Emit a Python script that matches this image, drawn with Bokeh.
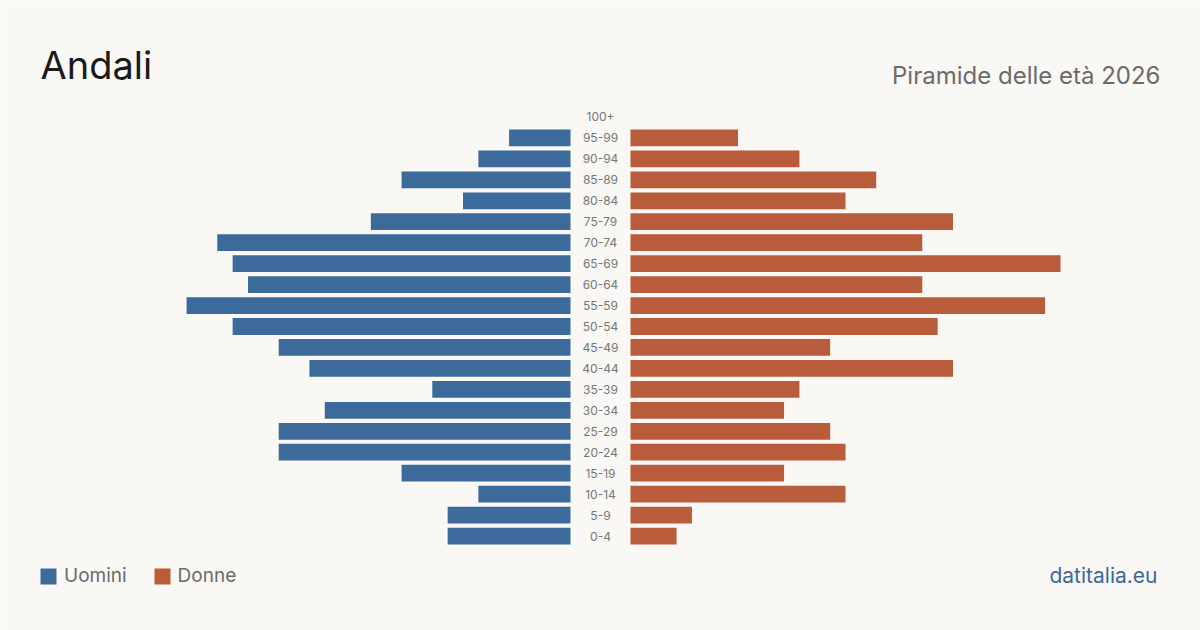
from bokeh.plotting import figure
from bokeh.models import Range1d, Label, Legend, LegendItem, ColumnDataSource
from bokeh.core.properties import value
from bokeh.embed import file_html
from bokeh.resources import INLINE

# Age classes, youngest first
age_groups = ["0-4", "5-9", "10-14", "15-19", "20-24", "25-29", "30-34", "35-39",
              "40-44", "45-49", "50-54", "55-59", "60-64", "65-69", "70-74",
              "75-79", "80-84", "85-89", "90-94", "95-99", "100+"]
uomini = [8, 8, 6, 11, 19, 19, 16, 9, 17, 19, 22, 25, 21, 22, 23, 13, 7, 11, 6, 4, 0]
donne = [3, 4, 14, 10, 14, 13, 10, 11, 21, 13, 20, 27, 19, 28, 19, 21, 14, 16, 11, 7, 0]

title_text = "Andali"
subtitle_text = "Piramide delle età 2026"
source_text = "datitalia.eu"

BG = "#f9f8f4"
BLUE = "#3b6a9b"
ORANGE = "#b95c3c"
FONT = "Inter"

W, H = 1200, 630
# pyramid area in page pixels
PLOT_L, PLOT_R, PLOT_T, PLOT_B = 140, 1060, 106, 546
gap_px = 30  # room for the age labels on each side of the centre line

xmax = max(max(uomini), max(donne))
scale = ((PLOT_R - PLOT_L) - 2 * gap_px) / (2 * xmax)  # px per person
gap = gap_px / scale
n = len(age_groups)
row_px = (PLOT_B - PLOT_T) / n


def sx(px):
    return (px - W / 2) / scale


def sy(py):
    return (n - 0.5) - (py - PLOT_T) / row_px


idx = list(range(n))
src = ColumnDataSource(dict(
    y=idx,
    age=age_groups,
    m_left=[-gap - v for v in uomini],
    m_right=[-gap] * n,
    f_left=[gap] * n,
    f_right=[gap + v for v in donne],
))

# the frame spans the whole page so that titles and legend sit inside it
p = figure(width=W, height=H, output_backend="svg", toolbar_location=None,
           x_range=Range1d(sx(0), sx(W)), y_range=Range1d(sy(H), sy(0)),
           min_border=0,
           background_fill_color=BG, border_fill_color=BG, outline_line_color=None)
p.axis.visible = False
p.grid.visible = False

r_m = p.hbar(y="y", left="m_left", right="m_right", height=0.8, source=src,
             fill_color=BLUE, line_color=None)
r_f = p.hbar(y="y", left="f_left", right="f_right", height=0.8, source=src,
             fill_color=ORANGE, line_color=None)

p.text(x=0, y="y", text="age", source=src, text_align="center", text_baseline="middle",
       text_font=value(FONT), text_font_size="12px", text_color="#777777")

p.add_layout(Label(x=sx(40), y=sy(64), text=title_text, text_font=FONT,
                   text_font_size="38px", text_color="#1a1a1a",
                   text_align="left", text_baseline="alphabetic"))
p.add_layout(Label(x=sx(1160), y=sy(74.5), text=subtitle_text, text_font=FONT,
                   text_font_size="24px", text_color="#6b6b6b",
                   text_align="right", text_baseline="alphabetic"))
p.add_layout(Label(x=sx(1157), y=sy(574.5), text=source_text, text_font=FONT,
                   text_font_size="21px", text_color=BLUE,
                   text_align="right", text_baseline="alphabetic"))

legend = Legend(items=[LegendItem(label="Uomini", renderers=[r_m]),
                       LegendItem(label="Donne", renderers=[r_f])],
                orientation="horizontal", location=(38, 43),
                glyph_width=20, glyph_height=20, label_standoff=6, spacing=25,
                padding=0, margin=0, border_line_color=None, background_fill_alpha=0,
                label_text_font=FONT, label_text_font_size="19px",
                label_text_color="#6b6b6b", label_height=20)
p.add_layout(legend)

open("out.html", "w").write(file_html(p, INLINE))
